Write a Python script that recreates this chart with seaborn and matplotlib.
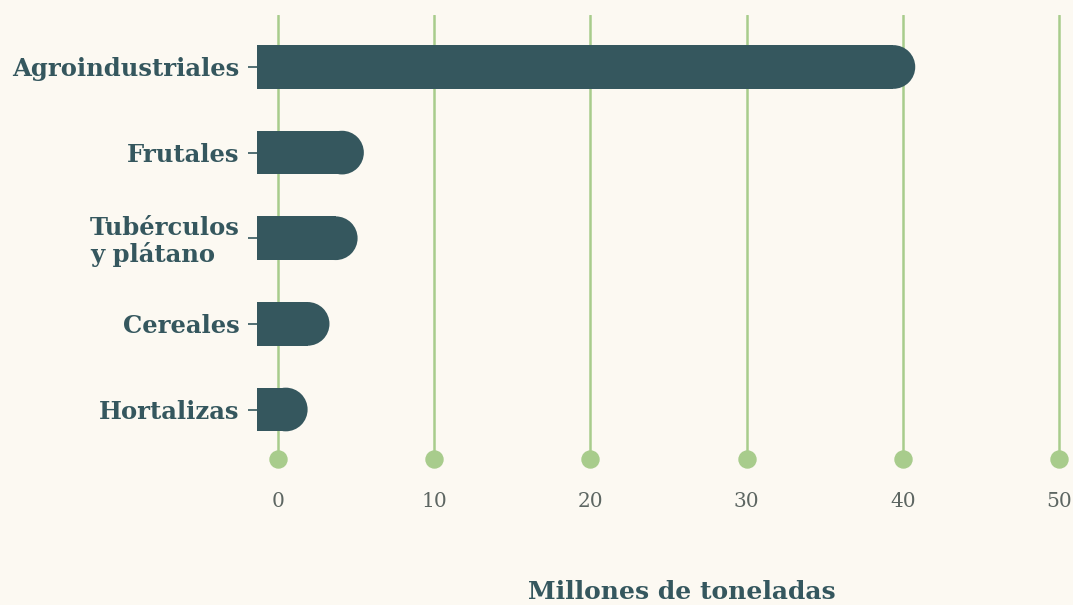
import matplotlib
matplotlib.use("Agg")
import matplotlib.pyplot as plt
from matplotlib.patches import Rectangle, Ellipse
import pandas as pd
import seaborn as sns

# data
categories = ["Agroindustriales", "Frutales", "Tubérculos\ny plátano", "Cereales", "Hortalizas"]
values = [40.8, 5.5, 5.1, 3.3, 1.9]
ticks = [0, 10, 20, 30, 40, 50]

BG = "#fcf9f2"
BAR = "#35575e"
GRID = "#a8cc8c"
TICK_TXT = "#5d6662"

df = pd.DataFrame({"cat": categories, "val": values})

sns.set_theme(style="white")
plt.rcParams["font.family"] = ["DejaVu Serif"]

fig = plt.figure(figsize=(10.73, 6.05), dpi=100, facecolor=BG)
ax = fig.add_axes([257 / 1073, 1 - 459 / 605, 816 / 1073, 444 / 605])
ax.set_facecolor(BG)

sns.barplot(data=df, x="val", y="cat", color=BAR, width=0.51, ax=ax, zorder=3)

x0 = -1.34
ax.set_xlim(x0, 50.9)
ax.set_ylim(4.578, -0.607)

# rounded right end on each bar
px_per_x = ax.transData.transform((1, 0))[0] - ax.transData.transform((0, 0))[0]
px_per_y = abs(ax.transData.transform((0, 1))[1] - ax.transData.transform((0, 0))[1])
for p in list(ax.patches):
    y, h, end = p.get_y(), p.get_height(), p.get_width()
    p.remove()
    r = (h * px_per_y / 2) / px_per_x
    ax.add_patch(Rectangle((x0, y), end - r - x0, h, color=BAR, lw=0, zorder=3, clip_on=False))
    ax.add_patch(Ellipse((end - r, y + h / 2), 2 * r, h, color=BAR, lw=0, zorder=3, clip_on=False))

ax.set_xticks(ticks)
ax.grid(axis="x", color=GRID, lw=1.8, zorder=0)
ax.grid(axis="y", visible=False)
for s in ax.spines.values():
    s.set_visible(False)

ax.scatter(ticks, [ax.get_ylim()[0]] * len(ticks), s=150, color=GRID, zorder=4, clip_on=False)

ax.tick_params(axis="x", length=0, pad=24, labelsize=14.5, labelcolor=TICK_TXT)
ax.tick_params(axis="y", left=True, length=6.5, width=1.2, color=BAR, pad=6,
               labelsize=17.5, labelcolor=BAR)
for t in ax.get_yticklabels():
    t.set_fontweight("bold")
    t.set_multialignment("left")
    t.set_linespacing(1.1)

ax.set_ylabel("")
ax.set_xlabel("Millones de toneladas", fontsize=18, fontweight="bold", color=BAR)
ax.xaxis.set_label_coords((682 - 257) / 816, (459 - 580) / 444)

fig.savefig("out.png", dpi=100, facecolor=BG)
